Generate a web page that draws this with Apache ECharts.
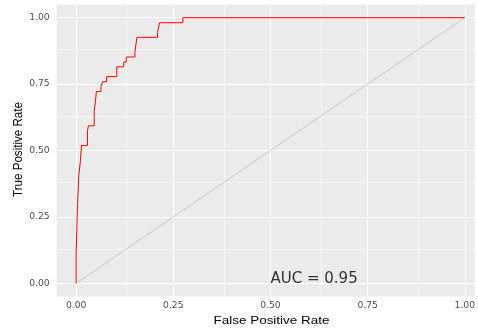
<!DOCTYPE html>
<html><head><meta charset="utf-8">
<script src="https://cdn.jsdelivr.net/npm/echarts@6/dist/echarts.min.js"></script>
<style>html,body{margin:0;padding:0;background:#fff}#c{width:478px;height:328px}</style>
</head><body><div id="c"></div>
<script>
// ROC curve step vertices (False Positive Rate, True Positive Rate)
const fpr = [0, 0, 0.0036, 0.0069, 0.0112, 0.0138, 0.0291, 0.0317, 0.0465, 0.0496, 0.0521, 0.0639, 0.0682, 0.0784, 0.1047, 0.1226, 0.129, 0.1512, 0.1563, 0.2095, 0.2146, 0.2746, 1];
const tpr = [0, 0.111, 0.296, 0.407, 0.463, 0.519, 0.574, 0.593, 0.648, 0.685, 0.722, 0.741, 0.759, 0.778, 0.815, 0.833, 0.852, 0.870, 0.926, 0.944, 0.981, 1, 1];
const diagonalX = [0, 1];
const diagonalY = [0, 1];
const xTicks = [0, 0.25, 0.5, 0.75, 1];
const yTicks = [0, 0.25, 0.5, 0.75, 1];
const xMinor = [0.125, 0.375, 0.625, 0.875];
const yMinor = [0.125, 0.375, 0.625, 0.875];
const aucLabel = 'AUC = 0.95';
const aucPos = [0.5, 0];
const xTitle = 'False Positive Rate';
const yTitle = 'True Positive Rate';

const chart = echarts.init(document.getElementById('c'), null, {renderer: 'canvas'});
const tickFont = {color: '#4D4D4D', fontFamily: 'DejaVu Sans', fontSize: 9.2};
const gridLines = [].concat(
  xTicks.map(v => ({xAxis: v, lineStyle: {width: 1.07}})),
  xMinor.map(v => ({xAxis: v, lineStyle: {width: 0.55}})),
  yTicks.map(v => ({yAxis: v, lineStyle: {width: 1.07}})),
  yMinor.map(v => ({yAxis: v, lineStyle: {width: 0.55}}))
);
chart.setOption({
  animation: false,
  grid: {left: 56.7, top: 4.4, width: 421.3, height: 292.2, show: true, backgroundColor: '#EBEBEB', borderWidth: 0},
  xAxis: {
    type: 'value', min: -0.05, max: 1.026,
    axisLine: {show: false}, splitLine: {show: false},
    axisTick: {show: true, customValues: xTicks, length: 3, lineStyle: {color: '#333333', width: 1}},
    axisLabel: Object.assign({customValues: xTicks, formatter: v => v.toFixed(2), margin: 4.5}, tickFont)
  },
  yAxis: {
    type: 'value', min: -0.05, max: 1.05,
    axisLine: {show: false}, splitLine: {show: false},
    axisTick: {show: true, customValues: yTicks, length: 3, lineStyle: {color: '#333333', width: 1}},
    axisLabel: Object.assign({customValues: yTicks, formatter: v => v.toFixed(2), margin: 7}, tickFont)
  },
  graphic: [
    {type: 'text', x: 271.5, y: 321, scaleX: 1.16, style: {text: xTitle, font: '11.6px "Liberation Sans"', fill: '#000', textAlign: 'center', textVerticalAlign: 'middle'}},
    {type: 'text', x: 18, y: 149.5, rotation: Math.PI / 2, scaleY: 1.16, style: {text: yTitle, font: '11.6px "Liberation Sans"', fill: '#000', textAlign: 'center', textVerticalAlign: 'middle'}}
  ],
  series: [
    {type: 'line', data: [], z: 1, silent: true,
     markLine: {z: 1, silent: true, symbol: ['none', 'none'], label: {show: false}, animation: false,
       lineStyle: {color: '#FFFFFF', type: 'solid'}, emphasis: {disabled: true}, data: gridLines}},
    {type: 'line', data: diagonalX.map((x, i) => [x, diagonalY[i]]), symbol: 'none', silent: true, z: 2,
     lineStyle: {color: '#BEBEBE', width: 0.8}},
    {type: 'line', step: 'end', data: fpr.map((x, i) => [x, tpr[i]]), symbol: 'none', silent: true, z: 3,
     lineStyle: {color: '#FF0000', width: 1}},
    {type: 'scatter', data: [aucPos], symbolSize: 0, silent: true, z: 4,
     label: {show: true, formatter: aucLabel, position: 'right', distance: 0, align: 'left', verticalAlign: 'middle', offset: [0, -4.5],
       fontFamily: 'DejaVu Sans', fontSize: 15, color: '#000'}}
  ]
});
</script></body></html>
